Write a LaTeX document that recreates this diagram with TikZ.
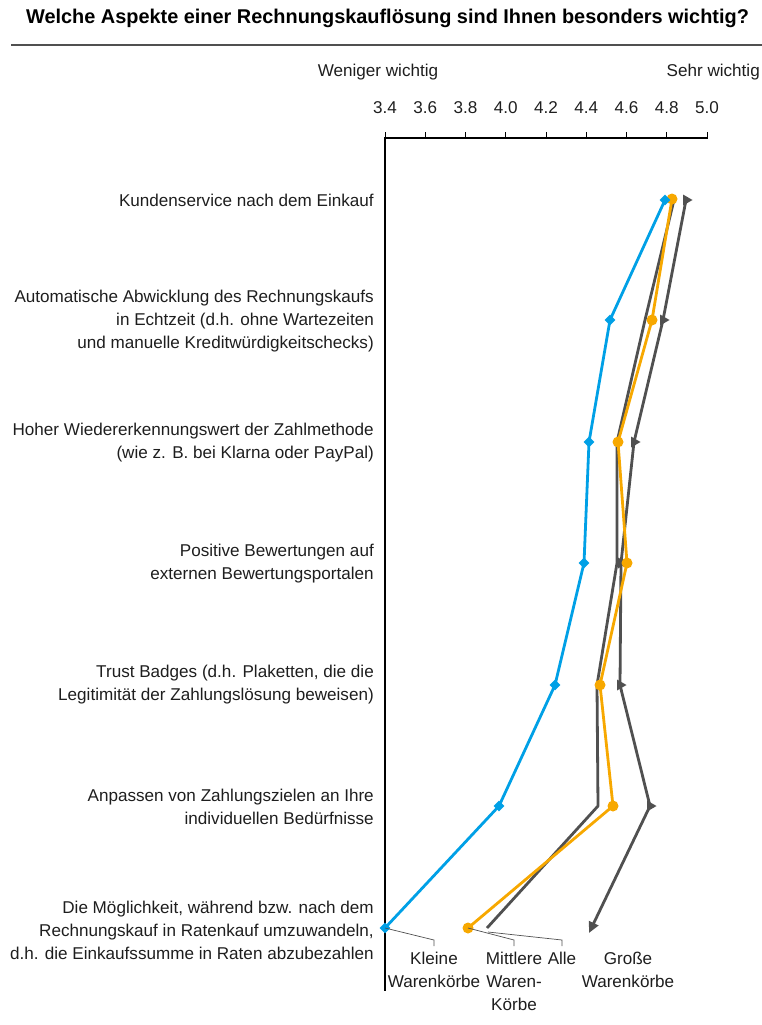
\documentclass[tikz,border=0pt]{standalone}
\usepackage{fontspec}
\setmainfont{Liberation Sans}
\usetikzlibrary{arrows.meta,shapes.geometric}
\definecolor{cblue}{RGB}{0,160,230}
\definecolor{corange}{RGB}{247,168,0}
\definecolor{cdark}{RGB}{80,80,80}
\definecolor{ctext}{RGB}{30,30,30}
\begin{document}
\begin{tikzpicture}[x=1pt,y=-1pt,
  lbl/.style={font=\fontsize{17.1}{23}\selectfont, text=ctext, inner sep=0pt},
  rowlbl/.style={lbl, anchor=east, align=right},
  leglbl/.style={lbl, anchor=north, align=center},
  series/.style={line width=2.8pt, line join=round},
  leader/.style={line width=0.7pt, cdark},
  dmark/.style={fill=cblue, draw=none, minimum size=11pt, inner sep=0pt, shape=diamond},
  omark/.style={fill=corange, circle, minimum size=11pt, inner sep=0pt},
  tmark/.style={fill=cdark, draw=none},
]
\useasboundingbox (0,0) rectangle (762,1025);
% title
\node[font=\bfseries\fontsize{19.9}{23}\selectfont, anchor=center] (title) at (387.5,18) {Welche Aspekte einer Rechnungskauflösung sind Ihnen besonders wichtig?};
\coordinate (r1) at (11,45); \coordinate (r2) at (762,45);
\draw[line width=1.3pt, cdark] (r1) -- (r2);
% axis labels
\node[lbl] (wen) at (378,72) {Weniger wichtig};
\node[lbl, anchor=east] (sehr) at (760,72) {Sehr wichtig};
% axis
\coordinate (a0) at (385,990); \coordinate (a1) at (385,138); \coordinate (a2) at (707,138);
\draw[line width=2pt, black, line cap=rect] (a0) -- (a1) -- (a2);
\foreach \v [count=\i from 0] in {3.4,3.6,3.8,4.0,4.2,4.4,4.6,4.8,5.0}{
  \coordinate (t\i) at ({385+\i*40.25},138);
  \coordinate (tt\i) at ({385+\i*40.25},132);
  \draw[line width=1pt] (t\i) -- (tt\i);
  \node[lbl] (tl\i) at ({385+\i*40.25},108) {\v};
}
% row labels
\node[rowlbl] (l1) at (374,200) {Kundenservice nach dem Einkauf};
\node[rowlbl] (l2) at (374,321) {Automatische Abwicklung des Rechnungskaufs\\in Echtzeit (d.h. ohne Wartezeiten\\und manuelle Kreditwürdigkeitschecks)};
\node[rowlbl] (l3) at (374,443) {Hoher Wiedererkennungswert der Zahlmethode\\(wie z. B. bei Klarna oder PayPal)};
\node[rowlbl] (l4) at (374,564) {Positive Bewertungen auf\\externen Bewertungsportalen};
\node[rowlbl] (l5) at (374,685) {Trust Badges (d.h. Plaketten, die die\\Legitimität der Zahlungslösung beweisen)};
\node[rowlbl] (l6) at (374,807) {Anpassen von Zahlungszielen an Ihre\\individuellen Bedürfnisse};
\node[rowlbl] (l7) at (374,930) {Die Möglichkeit, während bzw. nach dem\\Rechnungskauf in Ratenkauf umzuwandeln,\\d.h. die Einkaufssumme in Raten abzubezahlen};
% data points
\coordinate (b1) at (665,200); \coordinate (b2) at (610,320); \coordinate (b3) at (589,442);
\coordinate (b4) at (584,563); \coordinate (b5) at (555,685); \coordinate (b6) at (499,806);
\coordinate (b7) at (385,928);
\coordinate (o1) at (672,199); \coordinate (o2) at (652,320); \coordinate (o3) at (618,442);
\coordinate (o4) at (627,563); \coordinate (o5) at (600,685); \coordinate (o6) at (613,806);
\coordinate (o7) at (468,928);
\coordinate (m1) at (674,200); \coordinate (m2) at (645,320); \coordinate (m3) at (617,442);
\coordinate (m4) at (617,563); \coordinate (m5) at (597,685); \coordinate (m6) at (598,806);
\coordinate (m7) at (487,928);
\coordinate (g1) at (686,200); \coordinate (g2) at (663,320); \coordinate (g3) at (634,442);
\coordinate (g4) at (621,563); \coordinate (g5) at (620,685); \coordinate (g6) at (650,806);
\coordinate (g7) at (589,933);
% lines
\draw[series, cdark] (m1) -- (m2) -- (m3) -- (m4) -- (m5) -- (m6) -- (m7);
\draw[series, cdark, -{Triangle[length=11pt,width=10pt]}] (g1) -- (g2) -- (g3) -- (g4) -- (g5) -- (g6) -- (g7);
\draw[series, corange] (o1) -- (o2) -- (o3) -- (o4) -- (o5) -- (o6) -- (o7);
\draw[series, cblue] (b1) -- (b2) -- (b3) -- (b4) -- (b5) -- (b6) -- (b7);
% markers
\foreach \i in {1,...,6}{
  \fill[tmark] ([xshift=-3pt,yshift=-5.5pt]g\i) -- ([xshift=6.5pt]g\i) -- ([xshift=-3pt,yshift=5.5pt]g\i) -- cycle;
}
\foreach \i in {1,...,7}{
  \node[omark] (om\i) at (o\i) {};
  \node[dmark] (bm\i) at (b\i) {};
}
% leader lines
\coordinate (k1) at (434,940); \coordinate (k2) at (434,946);
\coordinate (mi1) at (514,940); \coordinate (mi2) at (514,946);
\coordinate (al0) at (488,932); \coordinate (al1) at (562,940); \coordinate (al2) at (562,946);
\draw[leader] (b7) -- (k1) -- (k2);
\draw[leader] (o7) -- (mi1) -- (mi2);
\draw[leader] (al0) -- (al1) -- (al2);
% legend labels
\node[leglbl] (kl) at (434,952) {Kleine\\Warenkörbe};
\node[leglbl] (mi) at (514,952) {Mittlere\\Waren-\\Körbe};
\node[leglbl] (al) at (562,952) {Alle};
\node[leglbl] (gr) at (628,952) {Große\\Warenkörbe};
\end{tikzpicture}
\end{document}
